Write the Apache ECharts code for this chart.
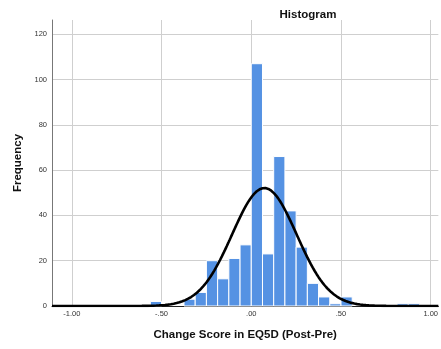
<!DOCTYPE html>
<html>
<head>
<meta charset="utf-8">
<script src="https://cdn.jsdelivr.net/npm/echarts@6/dist/echarts.min.js"></script>
<style>
  html, body { margin: 0; padding: 0; background: #fff; }
  #chart { width: 441px; height: 349px; }
</style>
</head>
<body>
<div id="chart"></div>
<script>
// Histogram bins: lower edge of each bin and its frequency (bin width 0.0625)
const binWidth = 0.0625;
const binStarts = [-0.5625, -0.375, -0.3125, -0.25, -0.1875, -0.125, -0.0625, 0, 0.0625, 0.125, 0.1875, 0.25, 0.3125, 0.375, 0.4375, 0.5, 0.8125, 0.875];
const counts    = [2, 3, 6, 20, 12, 21, 27, 107, 23, 66, 42, 26, 10, 4, 1, 4, 1, 1];

// Fitted normal curve parameters
const curveMean = 0.073;
const curveSD = 0.18;

// Axis tick values
const xTicks = [-1, -0.5, 0, 0.5, 1];
const yTicks = [0, 20, 40, 60, 80, 100, 120];

const xMin = -1.1106, xMax = 1.0426;

const barData = binStarts.map((s, i) => [s, s + binWidth, counts[i]]);
const total = counts.reduce((a, b) => a + b, 0);

// Normal density scaled to histogram counts
const curveData = [];
for (let i = 0; i <= 400; i++) {
  const x = xMin + (xMax - xMin) * i / 400;
  const z = (x - curveMean) / curveSD;
  const y = total * binWidth / (curveSD * Math.sqrt(2 * Math.PI)) * Math.exp(-0.5 * z * z);
  curveData.push([x, y]);
}

const fmtX = v => {
  const s = Math.abs(v).toFixed(2).replace(/^0/, '');
  return (v < 0 ? '-' : '') + s;
};

const font = 'Liberation Sans, Arial, sans-serif';

const chart = echarts.init(document.getElementById('chart'), null, { renderer: 'canvas' });
chart.setOption({
  animation: false,
  backgroundColor: '#fff',
  title: {
    text: 'Histogram',
    left: 303,
    top: 4,
    textAlign: 'center',
    textStyle: { fontFamily: font, fontSize: 11.5, fontWeight: 'bold', color: '#111' }
  },
  grid: { left: 52, right: 0, top: 20, bottom: 43 },
  xAxis: {
    type: 'value',
    min: xMin,
    max: xMax,
    name: 'Change Score in EQ5D (Post-Pre)',
    nameLocation: 'middle',
    nameGap: 23,
    nameTextStyle: { fontFamily: font, fontSize: 11.5, fontWeight: 'bold', color: '#111' },
    axisLine: { show: true, onZero: false, lineStyle: { color: '#222', width: 1 } },
    axisTick: { show: false, customValues: xTicks },
    axisLabel: {
      customValues: xTicks,
      formatter: fmtX,
      fontFamily: font,
      fontSize: 7.5,
      color: '#333',
      margin: 4
    },
    splitLine: { show: true, lineStyle: { color: '#cfcfcf', width: 1 } }
  },
  yAxis: {
    type: 'value',
    min: 0,
    max: 126.3,
    interval: 20,
    name: 'Frequency',
    nameLocation: 'middle',
    nameGap: 27,
    nameTextStyle: { fontFamily: font, fontSize: 11.5, fontWeight: 'bold', color: '#111' },
    axisLine: { show: true, onZero: false, lineStyle: { color: '#777', width: 1 } },
    axisTick: { show: false },
    axisLabel: {
      customValues: yTicks,
      fontFamily: font,
      fontSize: 7.5,
      color: '#333',
      margin: 5
    },
    splitLine: { show: true, showMaxLine: false, lineStyle: { color: '#cfcfcf', width: 1 } }
  },
  series: [
    {
      type: 'custom',
      data: barData,
      encode: { x: [0, 1], y: 2 },
      renderItem: (params, api) => {
        const p0 = api.coord([api.value(0), api.value(2)]);
        const p1 = api.coord([api.value(1), 0]);
        return {
          type: 'rect',
          shape: { x: p0[0], y: p0[1], width: p1[0] - p0[0], height: p1[1] - p0[1] },
          style: { fill: '#5592e3', stroke: '#ffffff', lineWidth: 1 }
        };
      },
      z: 2
    },
    {
      type: 'line',
      data: curveData,
      showSymbol: false,
      lineStyle: { color: '#000', width: 2.6 },
      z: 3
    }
  ]
});
</script>
</body>
</html>
